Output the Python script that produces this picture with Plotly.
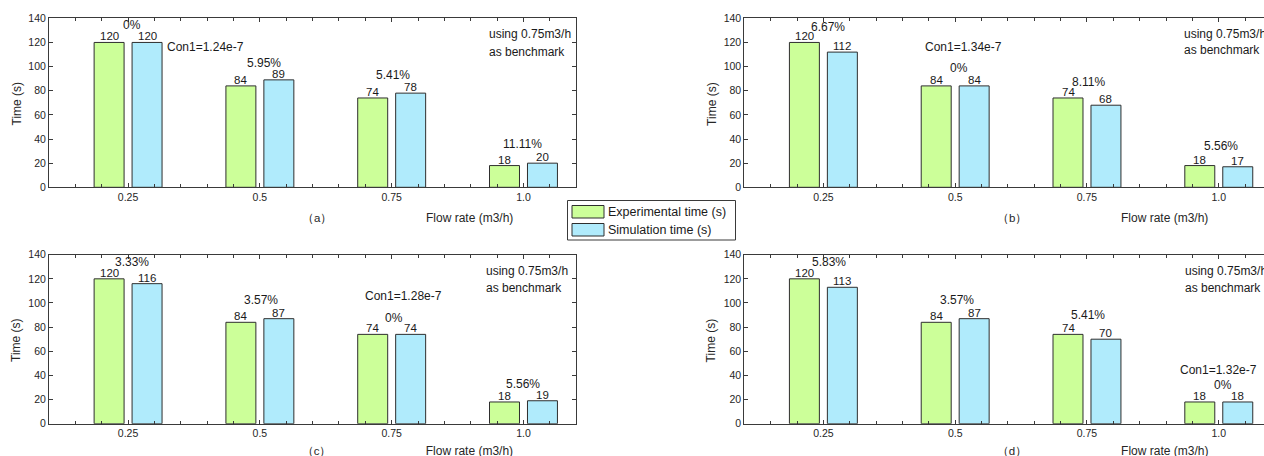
import plotly.graph_objects as go

# ---------------- data ----------------
categories = ["0.25", "0.5", "0.75", "1.0"]
exp_time = [120, 84, 74, 18]
sim_a = [120, 89, 78, 20]
sim_b = [112, 84, 68, 17]
sim_c = [116, 87, 74, 19]
sim_d = [113, 87, 70, 18]
pct_a = ["0%", "5.95%", "5.41%", "11.11%"]
pct_b = ["6.67%", "0%", "8.11%", "5.56%"]
pct_c = ["3.33%", "3.57%", "0%", "5.56%"]
pct_d = ["5.83%", "3.57%", "5.41%", "0%"]
con_a = "Con1=1.24e-7"
con_b = "Con1=1.34e-7"
con_c = "Con1=1.28e-7"
con_d = "Con1=1.32e-7"
panel_labels = ["（a）", "（b）", "（c）", "（d）"]
x_title = "Flow rate (m3/h)"
y_title = "Time (s)"
y_ticks = [0, 20, 40, 60, 80, 100, 120, 140]

# ---------------- styling / layout positions ----------------
W, H = 1264, 456
FONT = "Liberation Sans, Arial, Helvetica, sans-serif"
GREEN = "#ccff99"
BLUE = "#b0ebfc"
EDGE = "#2e2e2e"
AXC = "#3a3a3a"
TXT = "#1a1a1a"
PXU = 131.8  # pixels per category unit
BARGAP = 0.424
GROUPGAP = 0.21
HALF_SLOT = (1 - BARGAP) / 4  # centre offset of each bar within its group


def px(x):
    return x / W


def py(y):
    return 1 - y / H


pos_x = list(range(1, len(categories) + 1))
left_l, left_r = 49.0, 576.2
right_l = 744.3
top_t, top_b = 18.3, 187.3
bot_t, bot_b = 254.7, 423.7
row_label_top = 218.0
row_label_bot = 452.5

panels = [
    dict(sim=sim_a, pct=pct_a, con=con_a, lab=panel_labels[0], top=True,
         xd=[px(left_l), px(left_r)], yd=[py(top_b), py(top_t)],
         xr=[0.4, 4.4], mirror_y=True, ytitle_x=16, ytitle_y=103.5,
         pct_pos=[(1.03, 134.5), (2.03, 103), (3.01, 93), (3.99, 35.9)],
         con_pos=(1.28, 116.5), bench=(3.72, 126.8, 112.3)),
    dict(sim=sim_b, pct=pct_b, con=con_b, lab=panel_labels[1], top=True,
         xd=[px(right_l), 1.0], yd=[py(top_b), py(top_t)],
         xr=[0.4, 0.4 + (W - right_l) / PXU], mirror_y=False,
         ytitle_x=711.4, ytitle_y=103.5,
         pct_pos=[(1.032, 132.6), (2.026, 98.6), (3.015, 87.5), (4.015, 34.2)],
         con_pos=(1.756, 116.5), bench=(3.72, 127.4, 113.4)),
    dict(sim=sim_c, pct=pct_c, con=con_c, lab=panel_labels[2], top=False,
         xd=[px(left_l), px(left_r)], yd=[py(bot_b), py(bot_t)],
         xr=[0.4, 4.4], mirror_y=True, ytitle_x=16, ytitle_y=340,
         pct_pos=[(1.03, 133.7), (2.01, 102.7), (3.02, 87.6), (4.0, 32.9)],
         con_pos=(2.78, 105.5), bench=(3.70, 126.8, 112.4)),
    dict(sim=sim_d, pct=pct_d, con=con_d, lab=panel_labels[3], top=False,
         xd=[px(right_l), 1.0], yd=[py(bot_b), py(bot_t)],
         xr=[0.4, 0.4 + (W - right_l) / PXU], mirror_y=False,
         ytitle_x=711.4, ytitle_y=340,
         pct_pos=[(1.04, 133.7), (2.01, 102.7), (3.01, 89.8), (4.03, 32.3)],
         con_pos=(3.69, 44.5), bench=(3.73, 126.8, 112.4)),
]

fig = go.Figure()
annotations = []
layout_axes = {}


def note(**kw):
    base = dict(showarrow=False, xanchor="center", yanchor="middle")
    base.update(kw)
    annotations.append(base)


# helper y axis covering the strip below the bottom row (texts there may run off the page edge)
layout_axes["yaxis5"] = dict(domain=[0, py(bot_b)], range=[0, 1], visible=False,
                             fixedrange=True, anchor="free", position=0, automargin=False)
strip_val = (H - row_label_bot) / (H - bot_b)

for i, p in enumerate(panels):
    n = "" if i == 0 else str(i + 1)
    xa, ya = "x" + n, "y" + n
    for vals, col, name, sign in [(exp_time, GREEN, "Experimental time (s)", -1),
                                  (p["sim"], BLUE, "Simulation time (s)", 1)]:
        fig.add_trace(go.Bar(
            x=pos_x, y=vals, name=name, xaxis=xa, yaxis=ya,
            marker=dict(color=col, line=dict(color=EDGE, width=1)),
            offsetgroup=name, showlegend=False, hoverinfo="x+y",
        ))
        # value labels sitting right on top of each bar
        for xv, v in zip(pos_x, vals):
            note(x=xv + sign * HALF_SLOT, y=v, xref=xa, yref=ya, text=str(v),
                 yanchor="bottom", yshift=-2,
                 font=dict(size=11.5, color=TXT, family=FONT))
    # panel label + x title below the axis
    if p["top"]:
        note(x=2.43, y=py(row_label_top), xref=xa, yref="paper", text=p["lab"],
             font=dict(size=11.5, color="#262626", family=FONT))
        note(x=3.59, y=py(row_label_top), xref=xa, yref="paper", text=x_title,
             font=dict(size=12, color="#262626", family=FONT))
    else:
        fig.add_trace(go.Scatter(
            x=[2.43, 3.59], y=[strip_val, strip_val], xaxis=xa, yaxis="y5", mode="text",
            text=[p["lab"], x_title], textposition="middle center",
            textfont=dict(size=[11.5, 12], color="#262626", family=FONT),
            cliponaxis=False, showlegend=False, hoverinfo="skip",
        ))
    layout_axes["xaxis" + n] = dict(
        domain=p["xd"], range=p["xr"], anchor=ya, automargin=False,
        tickvals=pos_x, ticktext=categories,
        ticks="inside", ticklen=4, tickcolor=AXC, tickwidth=1,
        minor=dict(ticks="inside", dtick=0.2, tick0=0.0, ticklen=3,
                   tickcolor=AXC, tickwidth=1, showgrid=False),
        showline=True, linecolor=AXC, linewidth=1, mirror="ticks",
        showgrid=False, zeroline=False,
        tickfont=dict(size=10.5, color="#262626", family=FONT),
        fixedrange=True,
    )
    layout_axes["yaxis" + n] = dict(
        domain=p["yd"], range=[0, 140], anchor=xa, automargin=False,
        tickvals=y_ticks,
        ticks="inside", ticklen=4, tickcolor=AXC, tickwidth=1,
        showline=True, linecolor=AXC, linewidth=1,
        mirror="ticks" if p["mirror_y"] else False,
        showgrid=False, zeroline=False,
        tickfont=dict(size=10.5, color="#262626", family=FONT),
        fixedrange=True,
    )
    # percentages
    for (x, y), t in zip(p["pct_pos"], p["pct"]):
        note(x=x, y=y, xref=xa, yref=ya, text=t,
             font=dict(size=12, color=TXT, family=FONT))
    # Con1
    cx, cy = p["con_pos"]
    note(x=cx, y=cy, xref=xa, yref=ya, text=p["con"], xanchor="left",
         font=dict(size=12, color=TXT, family=FONT))
    # benchmark note
    bx, by1, by2 = p["bench"]
    note(x=bx, y=by1, xref=xa, yref=ya, text="using 0.75m3/h", xanchor="left",
         font=dict(size=12, color=TXT, family=FONT))
    note(x=bx, y=by2, xref=xa, yref=ya, text="as benchmark", xanchor="left",
         font=dict(size=12, color=TXT, family=FONT))
    # y title
    note(x=px(p["ytitle_x"]), y=py(p["ytitle_y"]), xref="paper", yref="paper",
         text=y_title, textangle=-90,
         font=dict(size=12, color="#262626", family=FONT))

# manual legend (box, swatches, labels)
shapes = [
    dict(type="rect", xref="paper", yref="paper", x0=px(567.5), x1=px(735.5),
         y0=py(240), y1=py(200.5), line=dict(color=AXC, width=1), fillcolor="white"),
    dict(type="rect", xref="paper", yref="paper", x0=px(572), x1=px(604),
         y0=py(218), y1=py(205.5), line=dict(color=EDGE, width=1), fillcolor=GREEN),
    dict(type="rect", xref="paper", yref="paper", x0=px(572), x1=px(604),
         y0=py(236), y1=py(223.5), line=dict(color=EDGE, width=1), fillcolor=BLUE),
]
note(x=px(605.5), y=py(212), xref="paper", yref="paper", xanchor="left",
     text="Experimental time (s)", font=dict(size=12.5, color=TXT, family=FONT))
note(x=px(605.5), y=py(230), xref="paper", yref="paper", xanchor="left",
     text="Simulation time (s)", font=dict(size=12.5, color=TXT, family=FONT))

fig.update_layout(
    width=W, height=H, autosize=False,
    margin=dict(l=0, r=0, t=0, b=0, pad=0, autoexpand=False),
    paper_bgcolor="white", plot_bgcolor="rgba(0,0,0,0)",
    barmode="group", bargap=BARGAP, bargroupgap=GROUPGAP,
    showlegend=False,
    font=dict(family=FONT, color=TXT),
    annotations=annotations, shapes=shapes,
    **layout_axes,
)

fig.write_html(
    "out.html",
    config={"displayModeBar": False},
    post_script="document.body.style.margin='0';document.body.style.overflow='hidden';",
)
